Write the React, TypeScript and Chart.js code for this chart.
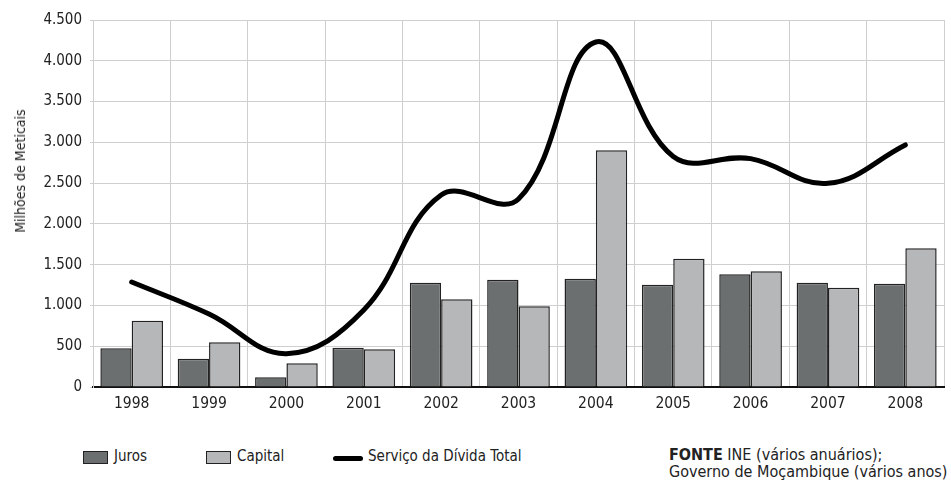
import React, { useEffect, useRef } from "react";
import { Chart, registerables } from "chart.js";

Chart.register(...registerables);

const years = ["1998", "1999", "2000", "2001", "2002", "2003", "2004", "2005", "2006", "2007", "2008"];
const juros = [474, 347, 119, 482, 1279, 1316, 1328, 1254, 1382, 1279, 1267];
const capital = [813, 548, 290, 462, 1075, 989, 2902, 1573, 1418, 1218, 1701];
const servicoTotal = [1287, 895, 409, 944, 2354, 2305, 4230, 2827, 2800, 2497, 2968];

const FONT = "'DejaVu Sans Condensed', 'DejaVu Sans', sans-serif";
const TEXT = "#222";
const JUROS_COLOR = "#6c6f70";
const CAPITAL_COLOR = "#b6b7b9";

export default function App() {
  const ref = useRef<HTMLCanvasElement | null>(null);

  useEffect(() => {
    if (!ref.current) return;
    const chart = new Chart(ref.current, {
      type: "bar",
      data: {
        labels: years,
        datasets: [
          {
            type: "line",
            label: "Serviço da Dívida Total",
            data: servicoTotal,
            borderColor: "#000",
            borderWidth: 5,
            borderCapStyle: "round",
            pointRadius: 0,
            tension: 0.4,
            fill: false,
            order: 0,
          } as any,
          {
            label: "Juros",
            data: juros,
            backgroundColor: JUROS_COLOR,
            borderColor: "#222",
            borderWidth: 1.5,
            categoryPercentage: 0.81,
            barPercentage: 1.0,
            order: 1,
          },
          {
            label: "Capital",
            data: capital,
            backgroundColor: CAPITAL_COLOR,
            borderColor: "#222",
            borderWidth: 1.5,
            categoryPercentage: 0.81,
            barPercentage: 1.0,
            order: 1,
          },
        ],
      },
      options: {
        animation: false,
        responsive: false,
        maintainAspectRatio: false,
        layout: { padding: { top: 20, right: 7, bottom: 0, left: 0 } },
        plugins: { legend: { display: false }, tooltip: { enabled: false } },
        scales: {
          x: {
            grid: { offset: true, color: "#cfcfcf", lineWidth: 1, drawTicks: false },
            border: { color: "#111", width: 2 },
            ticks: { color: TEXT, font: { family: FONT, size: 15.5 }, padding: 8 },
            afterFit: (s: any) => {
              s.height = 33;
            },
          },
          y: {
            min: 0,
            max: 4500,
            grid: { color: "#cfcfcf", lineWidth: 1, tickLength: 3 },
            border: { color: "#cfcfcf", width: 1 },
            ticks: {
              stepSize: 500,
              color: TEXT,
              font: { family: FONT, size: 15 },
              padding: 8,
              callback: (v: any) => Number(v).toLocaleString("de-DE"),
            },
            afterFit: (s: any) => {
              s.width = 93;
            },
          },
        },
      },
    });
    return () => chart.destroy();
  }, []);

  const legendText: React.CSSProperties = {
    position: "absolute",
    fontFamily: FONT,
    fontSize: 15,
    color: TEXT,
    lineHeight: "17px",
    whiteSpace: "nowrap",
  };
  const swatch = (bg: string, left: number): React.CSSProperties => ({
    position: "absolute",
    left,
    top: 451,
    width: 23,
    height: 11,
    background: bg,
    border: "1px solid #222",
  });

  return (
    <div style={{ position: "relative", width: 951, height: 487, background: "#fff", overflow: "hidden" }}>
      <style>{"body{margin:0}"}</style>
      <canvas ref={ref} width={951} height={420} style={{ position: "absolute", left: 0, top: 0 }} />
      <div
        style={{
          position: "absolute",
          left: 20,
          top: 171,
          transform: "translate(-50%, -50%) rotate(-90deg)",
          fontFamily: FONT,
          fontSize: 14,
          color: TEXT,
          whiteSpace: "nowrap",
          lineHeight: "16px",
        }}
      >
        Milhões de Meticais
      </div>
      <div style={swatch(JUROS_COLOR, 83)} />
      <span style={{ ...legendText, left: 114, top: 448 }}>Juros</span>
      <div style={swatch(CAPITAL_COLOR, 206)} />
      <span style={{ ...legendText, left: 237, top: 448 }}>Capital</span>
      <div
        style={{
          position: "absolute",
          left: 333,
          top: 456,
          width: 30,
          height: 5,
          background: "#000",
          borderRadius: 3,
        }}
      />
      <span style={{ ...legendText, left: 368, top: 448 }}>Serviço da Dívida Total</span>
      <span style={{ ...legendText, fontSize: 16, left: 669, top: 446 }}>
        <b>FONTE</b> INE (vários anuários);
      </span>
      <span style={{ ...legendText, fontSize: 16, left: 669, top: 463 }}>Governo de Moçambique (vários anos)</span>
    </div>
  );
}
